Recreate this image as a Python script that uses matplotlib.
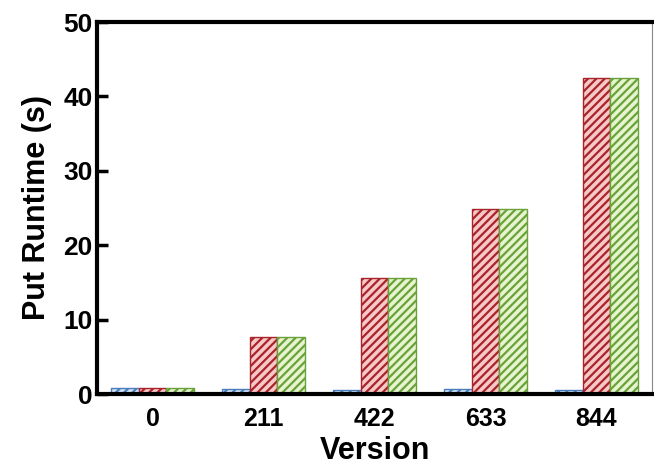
import matplotlib
matplotlib.use('Agg')
import matplotlib.pyplot as plt
import numpy as np

plt.rcParams['font.family'] = ['Liberation Sans', 'DejaVu Sans']
plt.rcParams['hatch.linewidth'] = 1.6

versions = ['0', '211', '422', '633', '844']
blue_vals = [0.8, 0.7, 0.6, 0.7, 0.6]
red_vals = [0.8, 7.7, 15.6, 24.9, 42.5]
green_vals = [0.8, 7.7, 15.6, 24.9, 42.5]

x = np.arange(len(versions))
w = 0.25

fig = plt.figure(figsize=(6.54, 4.74), dpi=100)
ax = fig.add_axes([97 / 654, 80 / 474, 555 / 654, 372 / 474])

ax.bar(x - w, blue_vals, w, color='#d4e3f5', edgecolor='#4a7ebb', hatch='////', linewidth=1)
ax.bar(x, red_vals, w, color='#f6c8c8', edgecolor='#a8242a', hatch='////', linewidth=1)
ax.bar(x + w, green_vals, w, color='#e6f4cf', edgecolor='#6aa23a', hatch='////', linewidth=1)

ax.set_xlim(-0.5, 4.5)
ax.set_ylim(0, 50)
ax.set_xticks(x)
ax.set_xticklabels(versions)
ax.set_yticks([0, 10, 20, 30, 40, 50])

for s in ['left', 'bottom', 'top']:
    ax.spines[s].set_linewidth(3)
    ax.spines[s].set_color('black')
ax.spines['right'].set_linewidth(0.8)
ax.spines['right'].set_color('#888888')

ax.tick_params(axis='y', direction='in', length=8, width=2.5, labelsize=19, pad=3)
ax.tick_params(axis='x', length=0, labelsize=18, pad=9)
for lbl in ax.get_xticklabels() + ax.get_yticklabels():
    lbl.set_fontweight('bold')

ax.set_xlabel('Version', fontsize=22, fontweight='bold', labelpad=4)
ax.set_ylabel('Put Runtime (s)', fontsize=22, fontweight='bold', labelpad=8)

fig.savefig('out.png', dpi=100)
